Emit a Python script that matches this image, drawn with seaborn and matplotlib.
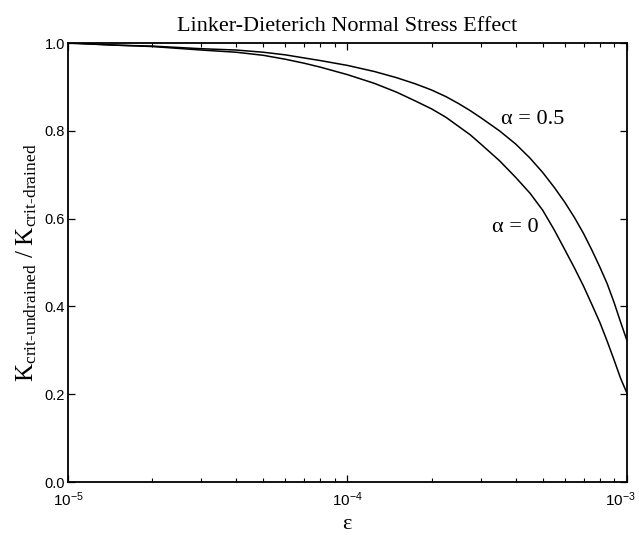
import matplotlib
matplotlib.use("Agg")
import matplotlib.pyplot as plt
import matplotlib.ticker as mticker
import pandas as pd
import seaborn as sns

# Strain values (epsilon) at which the critical stiffness ratio is sampled
epsilon = [1.0e-5, 1.5e-5, 2.0e-5, 3.0e-5, 4.0e-5, 5.0e-5, 6.0e-5, 7.0e-5,
           8.0e-5, 1.0e-4, 1.25e-4, 1.5e-4, 1.75e-4, 2.0e-4, 2.25e-4, 2.5e-4,
           2.75e-4, 3.0e-4, 3.5e-4, 4.0e-4, 4.5e-4, 5.0e-4, 5.5e-4, 6.0e-4,
           6.5e-4, 7.0e-4, 7.5e-4, 8.0e-4, 8.5e-4, 9.0e-4, 9.5e-4, 1.0e-3]

# K_crit-undrained / K_crit-drained for the two alpha values
ratio_alpha_05 = [1.000, 0.995, 0.993, 0.987, 0.984, 0.979, 0.973, 0.966,
                  0.960, 0.949, 0.935, 0.921, 0.907, 0.893, 0.878, 0.862,
                  0.846, 0.830, 0.800, 0.770, 0.738, 0.705, 0.671, 0.637,
                  0.602, 0.566, 0.528, 0.490, 0.452, 0.409, 0.364, 0.323]
ratio_alpha_0 = [1.000, 0.995, 0.992, 0.984, 0.979, 0.972, 0.963, 0.954,
                 0.945, 0.928, 0.908, 0.888, 0.868, 0.850, 0.831, 0.810,
                 0.791, 0.770, 0.732, 0.694, 0.658, 0.619, 0.574, 0.529,
                 0.487, 0.446, 0.404, 0.364, 0.321, 0.278, 0.236, 0.203]

series_labels = ["\u03b1 = 0.5", "\u03b1 = 0"]
title_text = "Linker-Dieterich Normal Stress Effect"
x_ticks = [1e-5, 1e-4, 1e-3]
x_tick_labels = [r"$\mathdefault{10^{-5}}$", r"$\mathdefault{10^{-4}}$",
                 r"$\mathdefault{10^{-3}}$"]
y_ticks = [0.0, 0.2, 0.4, 0.6, 0.8, 1.0]

df = pd.DataFrame({
    "epsilon": epsilon * 2,
    "ratio": ratio_alpha_05 + ratio_alpha_0,
    "alpha": [series_labels[0]] * len(epsilon) + [series_labels[1]] * len(epsilon),
})

sns.set_theme(style="ticks")
plt.rcParams["font.family"] = ["Liberation Sans", "DejaVu Sans"]
plt.rcParams["mathtext.fontset"] = "custom"
plt.rcParams["mathtext.rm"] = "Liberation Serif"
plt.rcParams["mathtext.it"] = "Liberation Serif:italic"
plt.rcParams["mathtext.cal"] = "Liberation Serif"

fig = plt.figure(figsize=(6.39, 5.35), dpi=100)
ax = fig.add_axes([0.1064, 0.099, 0.8746, 0.8206])

sns.lineplot(data=df, x="epsilon", y="ratio", hue="alpha",
             palette=["black", "black"], linewidth=1.1, legend=False,
             estimator=None, sort=True, ax=ax)

ax.set_xscale("log")
ax.set_xlim(1e-5, 1e-3)
ax.set_ylim(0.0, 1.0)
ax.set_yticks(y_ticks)
ax.yaxis.set_major_formatter(mticker.FormatStrFormatter("%.1f"))
# last decade label is drawn separately so it stays inside the canvas
ax.set_xticks(x_ticks, labels=x_tick_labels[:-1] + [""])
ax.xaxis.set_minor_formatter(mticker.NullFormatter())
ax.yaxis.set_minor_locator(mticker.NullLocator())

for s in ax.spines.values():
    s.set_color("black")
    s.set_linewidth(1.3)

ax.tick_params(axis="both", which="both", direction="in", top=True, right=True,
               colors="black", labelsize=10.5, pad=2)
ax.tick_params(axis="x", which="major", labelsize=11, pad=6)
ax.tick_params(axis="both", which="major", length=5, width=0.9)
ax.tick_params(axis="both", which="minor", length=3, width=0.8)

ax.annotate(x_tick_labels[-1], xy=(x_ticks[-1], 0), xycoords=("data", "axes fraction"),
            xytext=(-5, -6), textcoords="offset points", ha="center", va="top",
            fontsize=11, color="black")

ax.set_title(title_text, family="Liberation Serif", fontsize=16, pad=9,
             color="black")
ax.set_xlabel(r"$\mathrm{\varepsilon}$", fontsize=16, labelpad=3, color="black")
ax.set_ylabel(r"$\mathrm{K_{crit\text{-}undrained}\ /\ K_{crit\text{-}drained}}$",
              fontsize=18, labelpad=4, color="black")

ax.text(4.6e-4, 0.825, series_labels[0], family="Liberation Serif",
        fontsize=16, ha="center", va="center", color="black")
ax.text(4.0e-4, 0.58, series_labels[1], family="Liberation Serif",
        fontsize=16, ha="center", va="center", color="black")

fig.savefig("out.png", dpi=100)
